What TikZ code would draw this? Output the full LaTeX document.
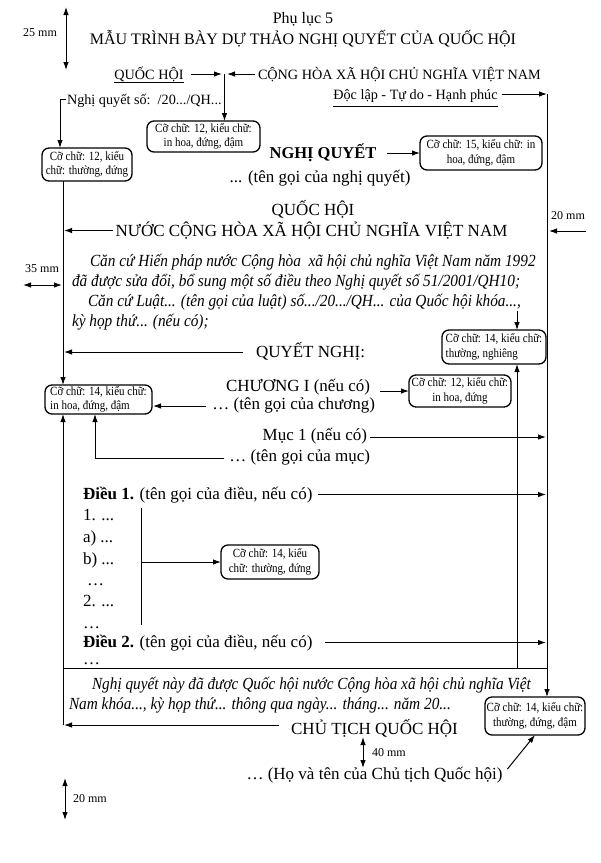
\documentclass[tikz,border=0pt]{standalone}
\usepackage{fontspec}
\setmainfont{Liberation Serif}
\newfontfamily\itcond[FakeStretch=0.9]{Liberation Serif}
\newfontfamily\boxfont[FakeStretch=0.88]{Liberation Serif}
\usetikzlibrary{arrows.meta}
\begin{document}
\begin{tikzpicture}[x=1pt,y=-1pt,
 every node/.style={inner sep=0pt, outer sep=0pt},
 txt/.style={font=\fontsize{17}{20}\selectfont},
 itx/.style={font=\itcond\fontsize{17}{20}\selectfont\itshape},
 hdr/.style={font=\fontsize{14.2}{17}\selectfont},
 ttl/.style={font=\fontsize{16}{19}\selectfont},
 dim/.style={font=\fontsize{12}{14}\selectfont},
 bx/.style={draw, line width=1.3pt, rounded corners=7pt, align=center, font=\boxfont\fontsize{12.5}{14.5}\selectfont},
 bxl/.style={bx, align=left},
 ln/.style={line width=1pt},
 arr/.style={ln, -{Latex[length=8pt,width=5.5pt]}},
 dbl/.style={ln, {Latex[length=8pt,width=5.5pt]}-{Latex[length=8pt,width=5.5pt]}}]
\useasboundingbox (0,0) rectangle (601,863);
\fill[white] (0,0) rectangle (601,863);

% ---------- frame coordinates
\coordinate (Lx) at (63,0);
\coordinate (Rx) at (547,0);
\coordinate (Ix) at (517,0);

% ---------- header
\node[ttl, anchor=base] (pl) at (303,23) {Phụ lục 5};
\node[ttl, anchor=base] (title) at (303,44.5) {MẪU TRÌNH BÀY DỰ THẢO NGHỊ QUYẾT CỦA QUỐC HỘI};
\coordinate (d25a) at (66,7); \coordinate (d25b) at (66,70);
\draw[dbl] (d25a) -- (d25b);
\node[dim, anchor=base] (l25) at (40,36) {25 mm};

\node[hdr, anchor=base] (qh) at (149,79) {QUỐC HỘI};
\draw[ln] ([yshift=-3pt]qh.base west) -- ([yshift=-3pt]qh.base east);
\node[hdr, anchor=base west] (chxh) at (258,79) {CỘNG HÒA XÃ HỘI CHỦ NGHĨA VIỆT NAM};
\node[hdr, anchor=base west] (nq) at (67,104) {Nghị quyết số:\ \ /20.../QH...};
\node[hdr, anchor=base] (dl) at (415.5,99) {Độc lập - Tự do - Hạnh phúc};
\draw[ln] ([yshift=-7pt]dl.base west) -- ([yshift=-7pt]dl.base east);

\coordinate (m1) at (222,74);
\coordinate (m2) at (227,74);
\coordinate (m0) at (224.5,74);
\coordinate (k1) at (60,99);
\coordinate (R0) at (547,94);

% ---------- boxes
\node[bx, minimum width=113pt, minimum height=31pt] (b1) at (203.5,136.5) {Cỡ chữ: 12, kiểu chữ:\\in hoa, đứng, đậm};
\node[bx, minimum width=90pt, minimum height=33pt] (b2) at (87,164.5) {Cỡ chữ: 12, kiểu\\chữ: thường, đứng};
\node[bx, minimum width=122pt, minimum height=34pt] (b3) at (481,153) {Cỡ chữ: 15, kiểu chữ: in\\hoa, đứng, đậm};
\node[bxl, minimum width=104pt, minimum height=34pt] (b4) at (494,347) {Cỡ chữ: 14, kiểu chữ:\\thường, nghiêng};
\node[bxl, minimum width=107pt, minimum height=29pt] (b5) at (98.5,399.5) {Cỡ chữ: 14, kiểu chữ:\\in hoa, đứng, đậm};
\node[bx, minimum width=102pt, minimum height=32pt] (b6) at (460,391) {Cỡ chữ: 12, kiểu chữ:\\in hoa, đứng};
\node[bx, minimum width=98pt, minimum height=34pt] (b7) at (270,562) {Cỡ chữ: 14, kiểu\\chữ: thường, đứng};
\node[bx, minimum width=100pt, minimum height=38pt] (b8) at (535,716) {Cỡ chữ: 14, kiểu chữ:\\thường, đứng, đậm};

\draw[arr] ([shift={(7pt,5pt)}]qh.base east) -- (m1);
\draw[arr] ([shift={(-3pt,5pt)}]chxh.base west) -- (m2);
\draw[arr] (m0) -- (m0 |- b1.north);
\draw[arr] ([shift={(-1pt,5pt)}]nq.base west) -- (k1) -- (k1 |- b2.north);
\draw[arr] ([shift={(4pt,5pt)}]dl.base east) -- (R0);
\draw[arr] (R0) -- (R0 |- b8.north);

% ---------- title block
\node[txt, anchor=base, font=\fontsize{16.5}{20}\selectfont\bfseries] (nqt) at (323,158.5) {NGHỊ QUYẾT};
\draw[arr] ([shift={(11pt,5.5pt)}]nqt.base east) -- (b3.west);
\node[txt, anchor=base] (tgnq) at (320,182) {... (tên gọi của nghị quyết)};
\node[txt, anchor=base] (qh2) at (313,215.5) {QUỐC HỘI};
\node[txt, anchor=base] (nuoc) at (311.5,236.5) {NƯỚC CỘNG HÒA XÃ HỘI CHỦ NGHĨA VIỆT NAM};
\coordinate (tNuoc) at (64,230.5);
\draw[arr] ([shift={(-3pt,6pt)}]nuoc.base west) -- (tNuoc);

\node[dim, anchor=base] (l20r) at (568,219) {20 mm};
\coordinate (e20a) at (586,231); \coordinate (e20b) at (549,231);
\draw[arr] (e20a) -- (e20b);

% ---------- preamble text
\node[itx, anchor=base west] (p1) at (90,266) {Căn cứ Hiến pháp nước Cộng hòa\ \ xã hội chủ nghĩa Việt Nam năm 1992};
\node[itx, anchor=base west] (p2) at (72,286) {đã được sửa đổi, bổ sung một số điều theo Nghị quyết số 51/2001/QH10;};
\node[itx, anchor=base west] (p3) at (88,306) {Căn cứ Luật... (tên gọi của luật) số.../20.../QH... của Quốc hội khóa...,};
\node[itx, anchor=base west] (p4) at (72,326) {kỳ họp thứ... (nếu có);};

\node[dim, anchor=base] (l35) at (42,272) {35 mm};
\coordinate (d35a) at (23,285); \coordinate (d35b) at (62,285);
\draw[dbl] (d35a) -- (d35b);

\coordinate (k4) at (517,311);
\draw[arr] (k4) -- (k4 |- b4.north);

\node[txt, anchor=base west] (qn) at (256,357.5) {QUYẾT NGHỊ:};
\coordinate (tQn) at (64,352);
\draw[arr] ([shift={(-13pt,5.5pt)}]qn.base west) -- (tQn);

% left frame upper
\draw[arr] (b2.south -| Lx) -- (b5.north -| Lx);

% ---------- chapter / section
\node[txt, anchor=base east] (ch) at (370,391) {CHƯƠNG I (nếu có)};
\draw[arr] ([xshift=10pt]ch.base east) -- (b6.west);
\node[txt, anchor=base east] (tc) at (375,409.5) {… (tên gọi của chương)};
\coordinate (t5) at (153,406);
\draw[arr] ([shift={(-6pt,3.5pt)}]tc.base west) -- (t5);

\node[txt, anchor=base east] (muc) at (367,440) {Mục 1 (nếu có)};
\coordinate (tMuc) at (546,437);
\draw[arr] ([shift={(3pt,3pt)}]muc.base east) -- (tMuc);
\node[txt, anchor=base east] (tm) at (370,461) {… (tên gọi của mục)};
\coordinate (k5) at (95,458);
\draw[arr] ([shift={(-5pt,3pt)}]tm.base west) -- (k5) -- (k5 |- b5.south);

% ---------- articles
\node[txt, anchor=base west] (d1) at (83,499.5) {\textbf{Điều 1.} (tên gọi của điều, nếu có)};
\coordinate (tD1) at (546,494.5);
\draw[arr] ([shift={(6pt,5pt)}]d1.base east) -- (tD1);
\node[txt, anchor=base west] (i1) at (83,520) {1. ...};
\node[txt, anchor=base west] (i2) at (83,542) {a) ...};
\node[txt, anchor=base west] (i3) at (83,564) {b) ...};
\node[txt, anchor=base west] (i4) at (87,585) {…};
\node[txt, anchor=base west] (i5) at (83,606) {2. ...};
\node[txt, anchor=base west] (i6) at (83,628) {…};
\coordinate (v1) at (141,508); \coordinate (v2) at (141,625); \coordinate (v3) at (141,562);
\draw[ln] (v1) -- (v2);
\draw[arr] (v3) -- (b7.west);
\node[txt, anchor=base west] (d2) at (83,647.5) {\textbf{Điều 2.} (tên gọi của điều, nếu có)};
\coordinate (tD2) at (546,642.5);
\draw[arr] ([shift={(13pt,5pt)}]d2.base east) -- (tD2);
\node[txt, anchor=base west] (i7) at (83,664) {…};

% ---------- frame lines
\coordinate (H0) at (0,668);
\draw[ln] (Lx |- H0) -- (Rx |- H0);
\draw[arr] (Ix |- H0) -- (Ix |- b4.south);
\coordinate (Lbot) at (63,725);
\draw[arr] (Lbot) -- (b5.south -| Lx);

% ---------- closing
\node[itx, anchor=base west] (c1) at (92,689) {Nghị quyết này đã được Quốc hội nước Cộng hòa xã hội chủ nghĩa Việt};
\node[itx, anchor=base west] (c2) at (69,709) {Nam khóa..., kỳ họp thứ... thông qua ngày... tháng... năm 20...};
\node[txt, anchor=base] (ct) at (374.5,734.5) {CHỦ TỊCH QUỐC HỘI};
\coordinate (tCt) at (64,725);
\draw[arr] ([shift={(-12pt,9.5pt)}]ct.base west) -- (tCt);
\coordinate (d40a) at (363,737); \coordinate (d40b) at (363,768);
\draw[dbl] (d40a) -- (d40b);
\node[dim, anchor=base west] (l40) at (372,756) {40 mm};
\node[txt, anchor=base] (hvt) at (374.5,779.5) {… (Họ và tên của Chủ tịch Quốc hội)};
\draw[arr] ([shift={(5pt,10.5pt)}]hvt.base east) -- (b8.south);

\coordinate (d20a) at (65,778); \coordinate (d20b) at (65,820);
\draw[dbl] (d20a) -- (d20b);
\node[dim, anchor=base west] (l20b) at (73,802) {20 mm};
\end{tikzpicture}
\end{document}
